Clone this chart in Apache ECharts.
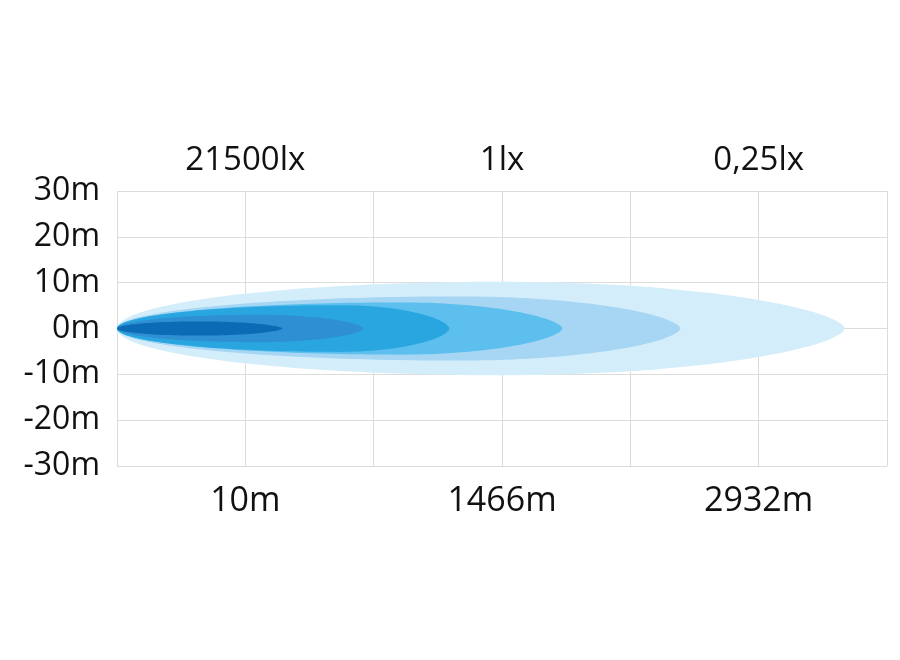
<!DOCTYPE html>
<html>
<head>
<meta charset="utf-8">
<script src="https://cdn.jsdelivr.net/npm/echarts@6/dist/echarts.min.js"></script>
<style>
  html, body { margin: 0; padding: 0; background: #ffffff; }
  #chart { width: 900px; height: 660px; }
</style>
</head>
<body>
<div id="chart"></div>
<script>
// Tick positions on the distance axis and their labels
const labelPositions = [1, 3, 5];
const distanceLabels = ['10m', '1466m', '2932m'];
const luxLabels = ['21500lx', '1lx', '0,25lx'];
const lateralTicks = [-30, -20, -10, 0, 10, 20, 30];

// Beam contours (outermost first): reach along x-axis (grid units),
// position of widest point, and half-width in metres
const beamReach = [5.67, 4.39, 3.47, 2.59, 1.92, 1.29];
const beamPeak = [3.0, 2.67, 2.2, 1.74, 1.1, 0.65];
const beamHalfWidth = [10.2, 7.0, 5.7, 5.1, 3.0, 1.55];
const beamColors = ['#d4edfa', '#a6d6f3', '#5cbfee', '#29a6df', '#2e90d2', '#0b6bb5'];

const beamData = beamReach.map((r, i) => ({
  value: [r, beamPeak[i], beamHalfWidth[i]],
  itemStyle: { color: beamColors[i] }
}));

const FONT = '"Open Sans", "Liberation Sans", sans-serif';
const LEFT_EXP = 1.0;
const RIGHT_EXP = 1.2;

function renderBeam(params, api) {
  const L = api.value(0), P = api.value(1), H = api.value(2);
  const R = L - P;
  const N = 90;
  const upper = [];
  for (let k = 0; k <= N; k++) {
    const t = Math.PI * k / N;
    const left = t <= Math.PI / 2;
    const x = left ? P * (1 - Math.cos(t)) : P - R * Math.cos(t);
    const y = H * Math.pow(Math.sin(t), left ? LEFT_EXP : RIGHT_EXP);
    upper.push([x, y]);
  }
  const pts = [];
  upper.forEach(p => pts.push(api.coord([p[0], p[1]])));
  for (let k = upper.length - 2; k >= 1; k--) {
    pts.push(api.coord([upper[k][0], -upper[k][1]]));
  }
  return {
    type: 'polygon',
    shape: { points: pts, smooth: 0 },
    style: { fill: api.visual('color') }
  };
}

const chart = echarts.init(document.getElementById('chart'));
const gridLine = { show: true, lineStyle: { color: '#dcdcdc', width: 1, type: 'solid' } };

function labelFor(list) {
  return function (v) {
    const idx = labelPositions.indexOf(Math.round(v));
    return idx >= 0 && Math.abs(v - Math.round(v)) < 1e-6 ? list[idx] : '';
  };
}

chart.setOption({
  backgroundColor: '#ffffff',
  animation: false,
  grid: { left: 117, right: 13, top: 191, bottom: 194 },
  xAxis: [
    {
      type: 'value', position: 'bottom', min: 0, max: 6, interval: 1,
      axisLine: { show: false }, axisTick: { show: false },
      splitLine: gridLine,
      axisLabel: {
        formatter: labelFor(distanceLabels), margin: 18,
        fontSize: 34, color: '#111111', fontFamily: FONT
      }
    },
    {
      type: 'value', position: 'top', min: 0, max: 6, interval: 1,
      axisLine: { show: false }, axisTick: { show: false },
      splitLine: { show: false },
      axisLabel: {
        formatter: labelFor(luxLabels), margin: 14,
        fontSize: 33, color: '#111111', fontFamily: FONT
      }
    }
  ],
  yAxis: {
    type: 'value', min: lateralTicks[0], max: lateralTicks[lateralTicks.length - 1], interval: 10,
    axisLine: { show: false }, axisTick: { show: false },
    splitLine: gridLine,
    axisLabel: {
      formatter: v => v + 'm', margin: 17,
      fontSize: 32, color: '#111111', fontFamily: FONT
    }
  },
  series: [{
    type: 'custom',
    xAxisIndex: 0,
    renderItem: renderBeam,
    data: beamData,
    encode: { x: 0, y: 2 },
    silent: true
  }]
});
</script>
</body>
</html>
